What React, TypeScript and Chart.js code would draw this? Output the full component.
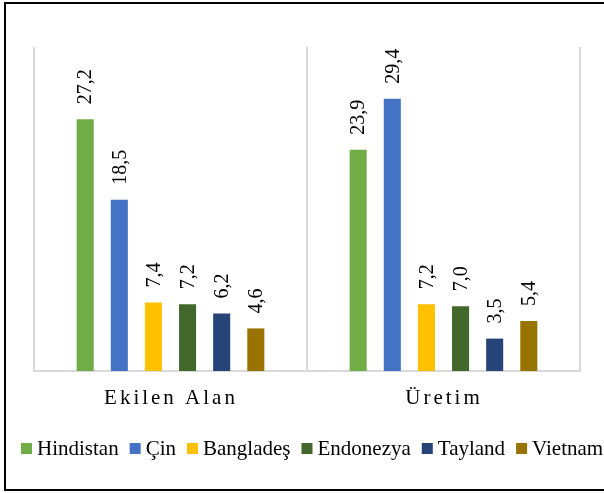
import React, { useEffect, useRef } from "react";
import { Chart, registerables } from "chart.js";

Chart.register(...registerables);

const categories = ["Ekilen Alan", "Üretim"];
const seriesNames = ["Hindistan", "Çin", "Bangladeş", "Endonezya", "Tayland", "Vietnam"];
const hindistan = [27.2, 23.9];
const cin = [18.5, 29.4];
const banglades = [7.4, 7.2];
const endonezya = [7.2, 7.0];
const tayland = [6.2, 3.5];
const vietnam = [4.6, 5.4];
const seriesColors = ["#70ad47", "#4472c4", "#ffc000", "#43682b", "#264478", "#997300"];

const SERIF = "'Liberation Serif', 'Times New Roman', serif";

const labelPlugin = {
  id: "customLabels",
  afterDatasetsDraw(chart: any) {
    const ctx = chart.ctx;
    ctx.save();
    ctx.fillStyle = "#000";
    chart.data.datasets.forEach((ds: any, di: number) => {
      const meta = chart.getDatasetMeta(di);
      meta.data.forEach((el: any, i: number) => {
        const v = ds.data[i] as number;
        const txt = v.toFixed(1).replace(".", ",");
        ctx.save();
        ctx.font = "20px " + SERIF;
        ctx.translate(el.x + 1, el.y - 15);
        ctx.rotate(-Math.PI / 2);
        ctx.textAlign = "left";
        ctx.textBaseline = "middle";
        ctx.fillText(txt, 0, 0);
        ctx.restore();
      });
    });
    ctx.restore();
  },
  afterDraw(chart: any) {
    const ctx = chart.ctx;
    const xs = chart.scales.x;
    ctx.save();
    // category labels
    ctx.fillStyle = "#000";
    ctx.font = "21px " + SERIF;
    (ctx as any).letterSpacing = "3px";
    ctx.textAlign = "center";
    ctx.textBaseline = "alphabetic";
    categories.forEach((c, i) => {
      const x = xs.getPixelForTick(i);
      ctx.fillText(c, x + 0.5, 404);
    });
    ctx.restore();
    // legend
    ctx.save();
    ctx.font = "21px " + SERIF;
    ctx.textAlign = "left";
    ctx.textBaseline = "alphabetic";
    const box = 11;
    const gapBox = 5;
    const gapItem = 11;
    let x = 21;
    const boxTop = 443;
    seriesNames.forEach((n, i) => {
      const w = ctx.measureText(n).width;
      ctx.fillStyle = seriesColors[i];
      ctx.fillRect(x, boxTop, box, box);
      ctx.fillStyle = "#000";
      ctx.fillText(n, x + box + gapBox, 455);
      x += box + gapBox + w + gapItem;
    });
    ctx.restore();
  },
};

export default function App() {
  const ref = useRef<HTMLCanvasElement>(null);
  useEffect(() => {
    document.body.style.margin = "0";
    document.body.style.overflow = "hidden";
    const allSeries = [hindistan, cin, banglades, endonezya, tayland, vietnam];
    const chart = new Chart(ref.current!, {
      type: "bar",
      data: {
        labels: categories,
        datasets: allSeries.map((d, i) => ({
          label: seriesNames[i],
          data: d,
          backgroundColor: seriesColors[i],
          borderWidth: 0,
          categoryPercentage: 0.75,
          barPercentage: 0.5,
        })),
      },
      options: {
        animation: false,
        responsive: false,
        maintainAspectRatio: false,
        font: { family: SERIF },
        layout: { padding: { left: 34, top: 47, right: 24, bottom: 122 } },
        plugins: {
          legend: { display: false },
          tooltip: { enabled: false },
        },
        scales: {
          x: {
            display: true,
            grid: { display: true, offset: true, color: "#d9d9d9", lineWidth: 2, drawTicks: false },
            border: { display: true, color: "#d9d9d9", width: 2 },
            ticks: { display: false },
          },
          y: {
            display: false,
            min: 0,
            max: 35,
          },
        },
      },
      plugins: [labelPlugin],
    });
    return () => chart.destroy();
  }, []);
  return (
    <div style={{ position: "relative", width: 604, height: 493, overflow: "hidden", background: "#fff" }}>
      <canvas ref={ref} width={604} height={493} style={{ position: "absolute", left: 0, top: 0 }} />
      <div
        style={{
          position: "absolute",
          left: 4,
          top: 2,
          width: 620,
          height: 485,
          border: "2px solid #000",
          pointerEvents: "none",
        }}
      />
    </div>
  );
}
